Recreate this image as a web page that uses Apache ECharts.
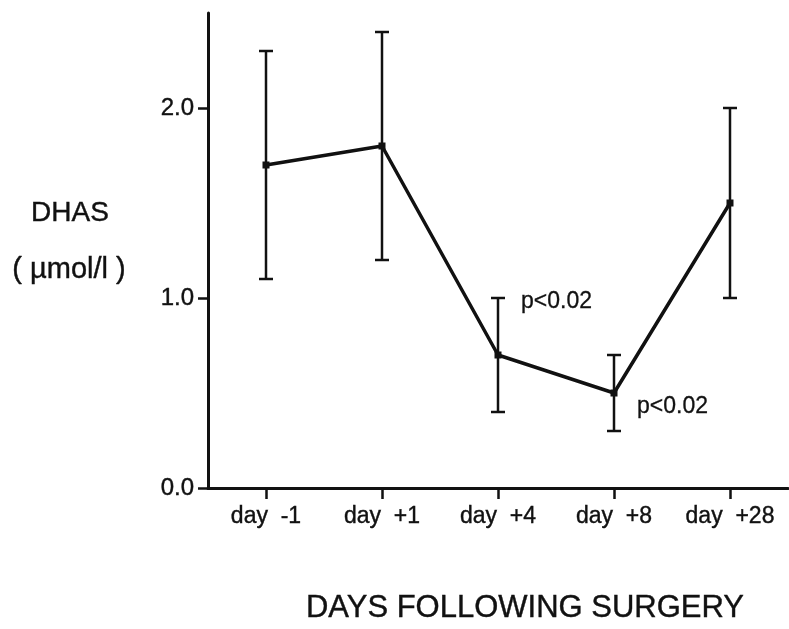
<!DOCTYPE html>
<html>
<head>
<meta charset="utf-8">
<script src="https://cdn.jsdelivr.net/npm/echarts@6/dist/echarts.min.js"></script>
<style>
  html, body { margin: 0; padding: 0; background: #fff; }
  #chart { width: 789px; height: 629px; }
</style>
</head>
<body>
<div id="chart"></div>
<script>
// Sampling days around surgery
const days = ['day  -1', 'day  +1', 'day  +4', 'day  +8', 'day  +28'];
// Mean DHAS concentration (µmol/l) and its spread
const meanDHAS = [1.7, 1.8, 0.7, 0.5, 1.5];
const spreadDHAS = [0.6, 0.6, 0.3, 0.2, 0.5];
// Y-axis tick values
const yTicks = [0, 1, 2];
// Significance notes: day, level on the value axis, text
const notes = [
  { day: 'day  +4', level: 0.98, text: 'p<0.02' },
  { day: 'day  +8', level: 0.43, text: 'p<0.02' }
];

const FONT = "'Liberation Sans', Arial, Helvetica, sans-serif";
const INK = '#111';

const errorData = days.map((d, i) => [i, meanDHAS[i] - spreadDHAS[i], meanDHAS[i] + spreadDHAS[i]]);
const noteData = notes.map(n => [days.indexOf(n.day), n.level, n.text]);

const chart = echarts.init(document.getElementById('chart'), null, { renderer: 'canvas' });

const heavy = { textBorderColor: INK, textBorderWidth: 0.4 };

chart.setOption({
  animation: false,
  backgroundColor: '#fff',
  grid: { left: 208, right: 1, top: 13, bottom: 141, containLabel: false },
  xAxis: {
    type: 'category',
    data: days,
    boundaryGap: true,
    axisLine: { lineStyle: { color: INK, width: 3 } },
    axisTick: { show: true, alignWithLabel: true, length: 11, lineStyle: { color: INK, width: 2.5 } },
    axisLabel: Object.assign({ color: INK, fontFamily: FONT, fontSize: 23, margin: 17 }, heavy),
    splitLine: { show: false }
  },
  yAxis: {
    type: 'value',
    min: 0,
    max: 2.5,
    interval: 1,
    axisLine: { show: true, lineStyle: { color: INK, width: 3 } },
    axisTick: { show: true, length: 10, customValues: yTicks, lineStyle: { color: INK, width: 2.5 } },
    axisLabel: Object.assign({
      color: INK, fontFamily: FONT, fontSize: 24, margin: 14,
      customValues: yTicks,
      formatter: v => v.toFixed(1)
    }, heavy),
    splitLine: { show: false }
  },
  graphic: [
    { type: 'text', x: 70, y: 213, style: { text: 'DHAS', fontFamily: FONT, fontSize: 28, fill: INK, stroke: INK, lineWidth: 0.4, align: 'center', verticalAlign: 'middle' } },
    { type: 'text', x: 69, y: 270, style: { text: '( \u00b5mol/l )', fontFamily: FONT, fontSize: 29, fill: INK, stroke: INK, lineWidth: 0.4, align: 'center', verticalAlign: 'middle' } },
    { type: 'text', x: 525, y: 608, style: { text: 'DAYS FOLLOWING SURGERY', fontFamily: FONT, fontSize: 31, fill: INK, stroke: INK, lineWidth: 0.4, align: 'center', verticalAlign: 'middle' } }
  ],
  series: [
    {
      type: 'custom',
      name: 'spread',
      data: errorData,
      encode: { x: 0, y: [1, 2] },
      z: 2,
      renderItem: function (params, api) {
        const lo = api.coord([api.value(0), api.value(1)]);
        const hi = api.coord([api.value(0), api.value(2)]);
        const half = 7;
        const st = { stroke: INK, lineWidth: 2.5 };
        return {
          type: 'group',
          children: [
            { type: 'line', shape: { x1: lo[0], y1: lo[1], x2: hi[0], y2: hi[1] }, style: st },
            { type: 'line', shape: { x1: hi[0] - half, y1: hi[1], x2: hi[0] + half, y2: hi[1] }, style: st },
            { type: 'line', shape: { x1: lo[0] - half, y1: lo[1], x2: lo[0] + half, y2: lo[1] }, style: st }
          ]
        };
      }
    },
    {
      type: 'line',
      name: 'DHAS',
      data: meanDHAS,
      z: 3,
      symbol: 'rect',
      symbolSize: 7,
      itemStyle: { color: INK },
      lineStyle: { color: INK, width: 3.5 }
    },
    {
      type: 'custom',
      name: 'notes',
      data: noteData,
      encode: { x: 0, y: 1 },
      z: 4,
      renderItem: function (params, api) {
        const p = api.coord([api.value(0), api.value(1)]);
        return {
          type: 'text',
          x: p[0] + 23,
          y: p[1],
          style: {
            text: noteData[params.dataIndex][2],
            fontFamily: FONT, fontSize: 23, fill: INK,
            stroke: INK, lineWidth: 0.3,
            align: 'left', verticalAlign: 'middle'
          }
        };
      }
    }
  ]
});
</script>
</body>
</html>
